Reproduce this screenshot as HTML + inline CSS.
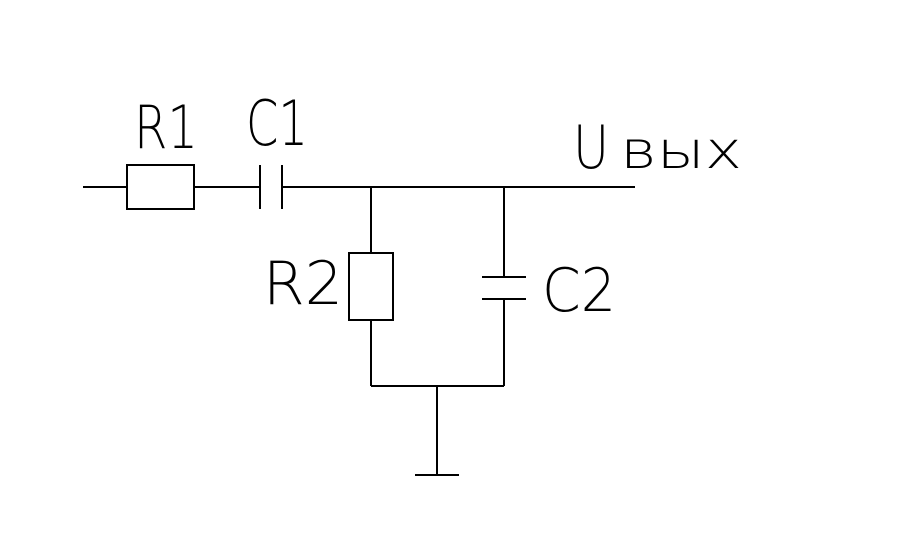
<!DOCTYPE html>
<html><head><meta charset="utf-8"><style>
html,body{margin:0;padding:0;background:#fff;}
svg{display:block;}
text{font-family:"DejaVu Sans ExtraLight","DejaVu Sans","Liberation Sans",sans-serif;font-weight:200;fill:#000;}
</style></head><body>
<svg width="907" height="552" viewBox="0 0 907 552" xmlns="http://www.w3.org/2000/svg">
<g stroke="#000" stroke-width="1.6" fill="none" shape-rendering="crispEdges">
<line x1="83" y1="187" x2="127" y2="187"/>
<rect x="127" y="165" width="67" height="44"/>
<line x1="194" y1="187" x2="260" y2="187"/>
<line x1="260" y1="165" x2="260" y2="209"/>
<line x1="282" y1="165" x2="282" y2="209"/>
<line x1="282" y1="187" x2="635" y2="187"/>
<line x1="371" y1="187" x2="371" y2="253"/>
<rect x="349" y="253" width="44" height="67"/>
<line x1="371" y1="320" x2="371" y2="386"/>
<line x1="504" y1="187" x2="504" y2="277"/>
<line x1="482" y1="277" x2="526" y2="277"/>
<line x1="482" y1="299" x2="526" y2="299"/>
<line x1="504" y1="299" x2="504" y2="386"/>
<line x1="371" y1="386" x2="504" y2="386"/>
<line x1="437" y1="386" x2="437" y2="475"/>
<line x1="415" y1="475" x2="459" y2="475"/>
</g>
<text x="134" y="148" font-size="60" textLength="64" lengthAdjust="spacingAndGlyphs">R1</text>
<text x="246" y="145" font-size="62" textLength="62" lengthAdjust="spacingAndGlyphs">C1</text>
<text x="263" y="304" font-size="60" textLength="80" lengthAdjust="spacingAndGlyphs">R2</text>
<text x="542" y="311" font-size="60" textLength="74" lengthAdjust="spacingAndGlyphs">C2</text>
<text x="573" y="168" font-size="60" textLength="36" lengthAdjust="spacingAndGlyphs">U</text>
<text x="620" y="168" font-size="52" textLength="122" lengthAdjust="spacingAndGlyphs">вых</text>
</svg>
</body></html>
